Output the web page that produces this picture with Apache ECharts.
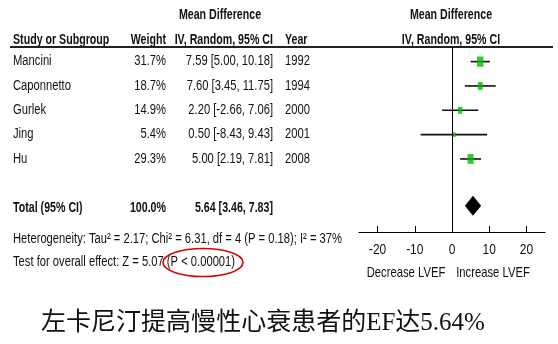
<!DOCTYPE html>
<html><head><meta charset="utf-8">
<script src="https://cdn.jsdelivr.net/npm/echarts@6/dist/echarts.min.js"></script>
<style>html,body{margin:0;padding:0;background:#fff}#c{width:558px;height:344px}</style>
</head><body><div id="c"></div>
<script>
// ---- data ----
const studies = ['Mancini', 'Caponnetto', 'Gurlek', 'Jing', 'Hu'];
const weights = [31.7, 18.7, 14.9, 5.4, 29.3];
const meanDiff = [7.59, 7.60, 2.20, 0.50, 5.00];
const ciLower = [5.00, 3.45, -2.66, -8.43, 2.19];
const ciUpper = [10.18, 11.75, 7.06, 9.43, 7.81];
const years = [1992, 1994, 2000, 2001, 2008];
const totalLabel = 'Total (95% CI)';
const totalWeight = 100.0;
const totalMD = 5.64;
const totalLower = 3.46;
const totalUpper = 7.83;
const xTicks = [-20, -10, 0, 10, 20];
const heterogeneity = 'Heterogeneity: Tau\u00b2 = 2.17; Chi\u00b2 = 6.31, df = 4 (P = 0.18); I\u00b2 = 37%';
const overallTest = 'Test for overall effect: Z = 5.07 (P < 0.00001)';
const titleText = '左卡尼汀提高慢性心衰患者的EF达5.64%';

// ---- layout ----
const FONT = "'Liberation Sans',Arial,sans-serif";
const SX_REG = 0.8;
const SX_BOLD = 0.76;
const studyRows = studies.map((_, i) => i + 1);
const totalRow = 7;
const green = '#00bb00';
const fmt = v => v.toFixed(2);

const chart = echarts.init(document.getElementById('c'), null, {renderer: 'canvas'});

const ciData = studies.map((s, i) => [ciLower[i], ciUpper[i], studyRows[i]]);
const ptData = studies.map((s, i) => ({value: [meanDiff[i], studyRows[i]], w: weights[i]}));

const option = {
  animation: false,
  backgroundColor: '#fff',
  grid: {left: 359, right: 13, top: 47, bottom: 112, containLabel: false},
  xAxis: {
    type: 'value', min: -25, max: 25,
    axisLine: {show: true, lineStyle: {color: '#000', width: 1.2}},
    axisTick: {show: true, inside: true, length: 6, customValues: xTicks, lineStyle: {color: '#000'}},
    axisLabel: {show: false},
    splitLine: {show: false}
  },
  yAxis: {
    type: 'value', min: 0.4, max: 8.0, inverse: true, show: false
  },
  series: [
    {
      type: 'custom', name: 'ci', data: ciData,
      renderItem: (params, api) => {
        const a = api.coord([api.value(0), api.value(2)]);
        const b = api.coord([api.value(1), api.value(2)]);
        return {type: 'line', shape: {x1: a[0], y1: a[1], x2: b[0], y2: b[1]},
          style: {stroke: '#111', lineWidth: 1.6}};
      },
      encode: {x: [0, 1], y: 2}, z: 2,
      markLine: {
        silent: true, symbol: 'none', label: {show: false},
        lineStyle: {color: '#000', width: 1, type: 'solid'},
        data: [{xAxis: 0}]
      }
    },
    {
      type: 'scatter', name: 'md', data: ptData, symbol: 'rect', z: 3,
      symbolSize: (val, p) => {
        const h = Math.max(4.5, 1.8 * Math.sqrt(p.data.w));
        return [Math.max(3.5, h * 0.63), h];
      },
      itemStyle: {color: green}
    },
    {
      type: 'custom', name: 'total', data: [[totalLower, totalMD, totalUpper, totalRow]],
      renderItem: (params, api) => {
        const y = api.value(3);
        const l = api.coord([api.value(0), y]);
        const m = api.coord([api.value(1), y]);
        const r = api.coord([api.value(2), y]);
        const h = 10;
        return {type: 'polygon', shape: {points: [[l[0], l[1] - 2], [m[0], m[1] - 2 - h], [r[0], r[1] - 2], [m[0], m[1] - 2 + h]]},
          style: {fill: '#000'}};
      },
      encode: {x: [0, 1, 2], y: 3}, z: 3
    }
  ]
};
chart.setOption(option);

// ---- table text, aligned to the chart's scales ----
function rowY(r) { return chart.convertToPixel({yAxisIndex: 0}, r); }
function colX(v) { return chart.convertToPixel({xAxisIndex: 0}, v); }
function txt(x, y, text, opts) {
  opts = opts || {};
  const sx = opts.sx != null ? opts.sx : (opts.bold ? SX_BOLD : SX_REG);
  return {type: 'text', x: x, y: y, scaleX: sx, silent: true,
    style: {text: text, fill: opts.fill || '#111', align: opts.align || 'left', verticalAlign: 'middle',
      font: (opts.bold ? 'bold ' : '') + (opts.size || 14) + 'px ' + (opts.family || FONT)}};
}
const g = [];
// headers
g.push(txt(220, 15, 'Mean Difference', {bold: true, align: 'center'}));
g.push(txt(451, 15, 'Mean Difference', {bold: true, align: 'center'}));
g.push(txt(13, 40, 'Study or Subgroup', {bold: true}));
g.push(txt(166, 40, 'Weight', {bold: true, align: 'right'}));
g.push(txt(273, 40, 'IV, Random, 95% CI', {bold: true, align: 'right'}));
g.push(txt(285, 40, 'Year', {bold: true}));
g.push(txt(451, 40, 'IV, Random, 95% CI', {bold: true, align: 'center'}));
g.push({type: 'line', silent: true, shape: {x1: 10, y1: 47, x2: 553, y2: 47}, style: {stroke: '#222', lineWidth: 2}});
studies.forEach((s, i) => {
  const y = rowY(studyRows[i]);
  g.push(txt(13, y, s));
  g.push(txt(166, y, weights[i].toFixed(1) + '%', {align: 'right'}));
  g.push(txt(273, y, fmt(meanDiff[i]) + ' [' + fmt(ciLower[i]) + ', ' + fmt(ciUpper[i]) + ']', {align: 'right'}));
  g.push(txt(285, y, String(years[i])));
});
const ty = rowY(totalRow);
g.push(txt(13, ty, totalLabel, {bold: true}));
g.push(txt(166, ty, totalWeight.toFixed(1) + '%', {bold: true, align: 'right'}));
g.push(txt(273, ty, fmt(totalMD) + ' [' + fmt(totalLower) + ', ' + fmt(totalUpper) + ']', {bold: true, align: 'right'}));
g.push(txt(13, 239, heterogeneity));
g.push(txt(13, 262, overallTest));
// axis tick labels from the axis scale
xTicks.forEach(v => g.push(txt(colX(v), 250, String(v), {align: 'center', size: 15})));
g.push(txt(406, 273, 'Decrease LVEF', {align: 'center', size: 15, sx: 0.75}));
g.push(txt(493, 273, 'Increase LVEF', {align: 'center', size: 15, sx: 0.75}));
g.push({type: 'ellipse', silent: true, shape: {cx: 203, cy: 262.5, rx: 40, ry: 14},
  style: {fill: 'none', stroke: '#e00000', lineWidth: 1.6}});
g.push(txt(263, 323, titleText, {size: 25, sx: 1, align: 'center', family: "'Liberation Serif','Noto Sans CJK SC',serif"}));
chart.setOption({graphic: g});
</script></body></html>
